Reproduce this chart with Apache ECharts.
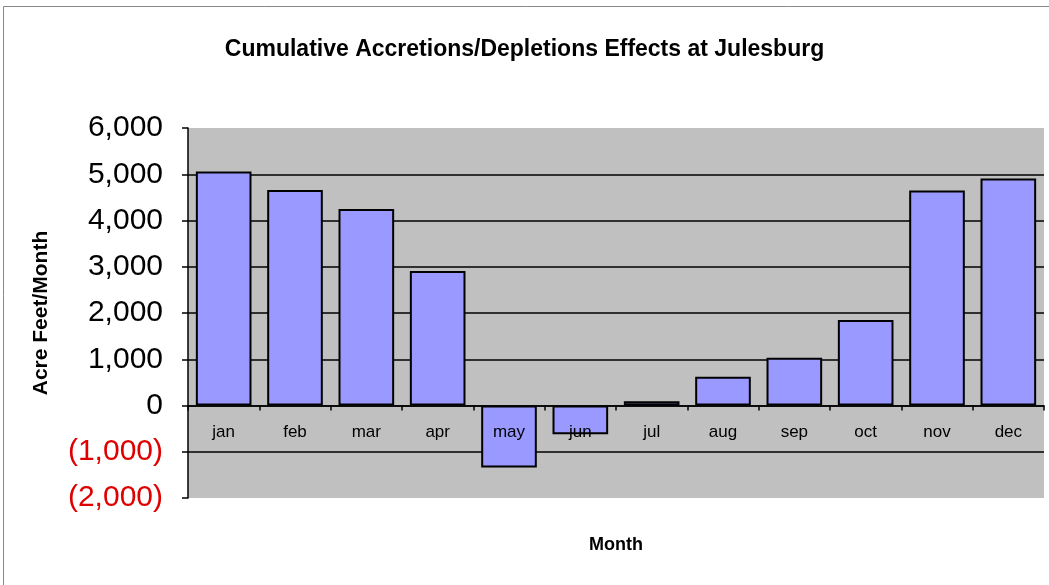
<!DOCTYPE html>
<html>
<head>
<meta charset="utf-8">
<script src="https://cdn.jsdelivr.net/npm/echarts@6/dist/echarts.min.js"></script>
<style>
  html, body {margin: 0; padding: 0; background: #fff;}
  #view {width: 1049px; height: 585px;}
</style>
</head>
<body>
<div id="view"></div>
<script>
var months = ['jan', 'feb', 'mar', 'apr', 'may', 'jun', 'jul', 'aug', 'sep', 'oct', 'nov', 'dec'];
var acreFeet = [5060, 4660, 4250, 2910, -1340, -620, 90, 620, 1030, 1850, 4650, 4910];
var yTicks = {min: -2000, max: 6000, step: 1000};

var titleText = 'Cumulative Accretions/Depletions Effects at Julesburg';
var yName = 'Acre Feet/Month';
var xName = 'Month';

function fmt(v) {
    return String(v).replace(/\B(?=(\d{3})+(?!\d))/g, ',');
}

var chart = echarts.init(document.getElementById('view'));
var option = {
    backgroundColor: '#fff',
    animation: false,
    title: {
        text: titleText,
        left: 'center',
        top: 33,
        textStyle: {fontFamily: 'Liberation Sans', fontSize: 23, fontWeight: 'bold', color: '#000'}
    },
    graphic: [
        {type: 'line', shape: {x1: 3.5, y1: 6.5, x2: 1049, y2: 6.5}, style: {stroke: '#888', lineWidth: 1}},
        {type: 'line', shape: {x1: 3.5, y1: 6.5, x2: 3.5, y2: 585}, style: {stroke: '#888', lineWidth: 1}}
    ],
    grid: {
        left: 188, right: 5, top: 128, bottom: 87,
        outerBoundsMode: 'none',
        containLabel: false,
        show: true, backgroundColor: '#c0c0c0', borderWidth: 0
    },
    xAxis: {
        type: 'category',
        data: months,
        z: 10,
        name: xName,
        nameLocation: 'middle',
        nameGap: 38,
        nameTextStyle: {fontFamily: 'Liberation Sans', fontSize: 18, fontWeight: 'bold', color: '#000'},
        axisLine: {onZero: true, lineStyle: {color: '#000', width: 1.5}},
        axisTick: {show: true, length: 5, lineStyle: {color: '#000', width: 1.5}},
        // labels stay at the grid bottom in v6, pull them up under the zero line
        axisLabel: {margin: -74, fontFamily: 'Liberation Sans', fontSize: 17, color: '#000'}
    },
    yAxis: {
        type: 'value',
        min: yTicks.min,
        max: yTicks.max,
        interval: yTicks.step,
        name: yName,
        nameLocation: 'middle',
        nameGap: 136,
        nameRotate: 90,
        nameTextStyle: {fontFamily: 'Liberation Sans', fontSize: 21, fontWeight: 'bold', color: '#000'},
        axisLine: {show: true, lineStyle: {color: '#000', width: 1.5}},
        axisTick: {show: true, length: 6, lineStyle: {color: '#000', width: 1.5}},
        splitLine: {show: true, showMinLine: false, showMaxLine: false, lineStyle: {color: '#000', width: 1.5}},
        axisLabel: {
            margin: 25,
            fontFamily: 'Liberation Sans',
            fontSize: 30,
            color: '#000',
            formatter: function(v) {
                if (v < 0) return '{neg|(' + fmt(-v) + ')}';
                return fmt(v);
            },
            rich: {neg: {color: '#e00000', fontFamily: 'Liberation Sans', fontSize: 30}}
        }
    },
    series: [{
        type: 'bar',
        data: acreFeet,
        barCategoryGap: '22%',
        itemStyle: {color: '#9999ff', borderColor: '#000', borderWidth: 2}
    }]
};
chart.setOption(option);
</script>
</body>
</html>
